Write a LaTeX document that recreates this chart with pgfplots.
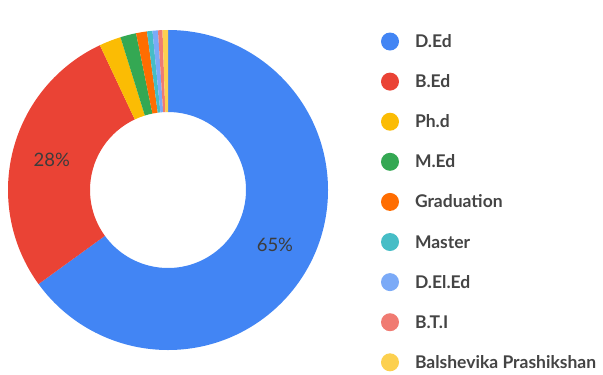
\documentclass[border=0pt]{standalone}
\usepackage{pgfplots}
\pgfplotsset{compat=1.18}
\usepackage{pgfplotstable}
\usepackage{fontspec}
\setmainfont{Lato}
\definecolor{c1}{HTML}{4285F4}
\definecolor{c2}{HTML}{EA4335}
\definecolor{c3}{HTML}{FBBC04}
\definecolor{c4}{HTML}{34A853}
\definecolor{c5}{HTML}{FF6D01}
\definecolor{c6}{HTML}{46BDC6}
\definecolor{c7}{HTML}{7BAAF7}
\definecolor{c8}{HTML}{F07B72}
\definecolor{c9}{HTML}{FCD04F}
\definecolor{txt}{HTML}{444444}
\definecolor{lbl}{HTML}{3C3C3C}

% share of each qualification (percent), drawn clockwise from 12 o'clock
\pgfplotstableread[col sep=comma]{
label,value,color
D.Ed,65.0,c1
B.Ed,28.0,c2
Ph.d,2.2,c3
M.Ed,1.6,c4
Graduation,1.1,c5
Master,0.55,c6
D.El.Ed,0.55,c7
B.T.I,0.45,c8
Balshevika Prashikshan,0.55,c9
}\slices

% cumulative angles
\gdef\cum{0}
\pgfplotsforeachungrouped \i in {0,...,8}{%
  \pgfplotstablegetelem{\i}{value}\of\slices
  \let\val\pgfplotsretval
  \pgfmathsetmacro{\angA}{90-3.6*\cum}%
  \pgfmathsetmacro{\newcum}{\cum+\val}%
  \pgfmathsetmacro{\angB}{90-3.6*\newcum}%
  \pgfmathsetmacro{\angM}{(\angA+\angB)/2}%
  \pgfmathtruncatemacro{\pct}{round(\val)}%
  \expandafter\xdef\csname sA\i\endcsname{\angA}%
  \expandafter\xdef\csname sB\i\endcsname{\angB}%
  \expandafter\xdef\csname sM\i\endcsname{\angM}%
  \expandafter\xdef\csname sP\i\endcsname{\pct}%
  \pgfplotstablegetelem{\i}{color}\of\slices
  \expandafter\xdef\csname sC\i\endcsname{\pgfplotsretval}%
  \xdef\cum{\newcum}%
}

\def\cx{168}
\def\cy{184}
\def\Ro{160}
\def\Ri{78}

\begin{document}
\begin{tikzpicture}
\begin{axis}[
  name=ax,
  x=1bp, y=1bp,
  xmin=0, xmax=603, ymin=0, ymax=374,
  hide axis, clip=false,
  legend image code/.code={\fill[#1,draw=none] (9bp,6bp) circle (9bp);},
  legend style={
    at={(axis cs:381,341.5)}, anchor=north west,
    draw=none, fill=none, inner sep=0pt, outer sep=0pt,
    row sep=22.1bp,
    nodes={inner sep=0pt, text height=12bp, text depth=0bp, anchor=base west,
      font=\fontsize{17.5bp}{20bp}\selectfont\bfseries, text=txt},
    /tikz/every odd column/.append style={column sep=16bp},
  },
  legend cell align=left,
]
\pgfplotsinvokeforeach{0,...,8}{%
  \edef\temp{\noexpand\fill[fill=\csname sC#1\endcsname]
    (axis cs:\cx,\cy) ++(\csname sA#1\endcsname:\Ro bp)
    arc[start angle=\csname sA#1\endcsname, end angle=\csname sB#1\endcsname, radius=\Ro bp]
    -- ++(\csname sB#1\endcsname+180:\Ro bp-\Ri bp)
    arc[start angle=\csname sB#1\endcsname, end angle=\csname sA#1\endcsname, radius=\Ri bp]
    -- cycle;}%
  \temp
}
\pgfplotsinvokeforeach{0,1}{%
  \edef\temp{\noexpand\path (axis cs:\cx,\cy) ++(\csname sM#1\endcsname:120bp)
    node[text=lbl, font=\noexpand\fontsize{18.5bp}{21bp}\noexpand\selectfont] {\csname sP#1\endcsname\noexpand\%};}%
  \temp
}
\addlegendimage{fill=c1}\addlegendentry{D.Ed}
\addlegendimage{fill=c2}\addlegendentry{B.Ed}
\addlegendimage{fill=c3}\addlegendentry{Ph.d}
\addlegendimage{fill=c4}\addlegendentry{M.Ed}
\addlegendimage{fill=c5}\addlegendentry{Graduation}
\addlegendimage{fill=c6}\addlegendentry{Master}
\addlegendimage{fill=c7}\addlegendentry{D.El.Ed}
\addlegendimage{fill=c8}\addlegendentry{B.T.I}
\addlegendimage{fill=c9}\addlegendentry{Balshevika Prashikshan}
\end{axis}
\pgfresetboundingbox
\path (ax.south west) rectangle (ax.north east);
\end{tikzpicture}
\end{document}
